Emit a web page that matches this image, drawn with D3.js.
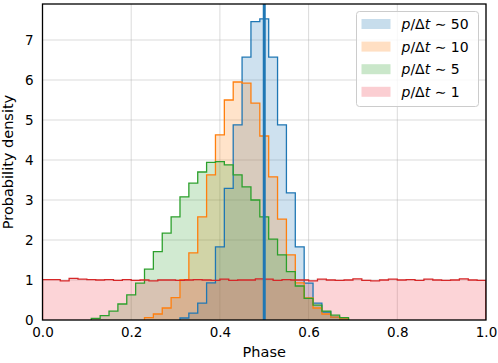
<!DOCTYPE html>
<html>
<head>
<meta charset="utf-8">
<script src="https://cdn.jsdelivr.net/npm/d3@7"></script>
<style>
  body { margin: 0; background: #fff; }
  text { font-family: "DejaVu Sans", sans-serif; }
</style>
</head>
<body>
<div id="chart"></div>
<script>
// chart data: density per phase bin, bins are 0.02 wide
const binWidth = 0.02
const seriesLabels = ["50", "10", "5", "1"]
const seriesStart = [0.31, 0.23, 0.11, 0.0]
const dens50 = [0.05, 0.17, 0.42, 0.93, 1.83, 3.29, 4.88, 6.57, 7.46, 7.53, 6.57, 4.88, 3.18, 1.83, 0.92, 0.42, 0.2, 0.07, 0.02]
const dens10 = [0.06, 0.15, 0.3, 0.56, 1.01, 1.68, 2.58, 3.63, 4.63, 5.5, 5.95, 5.92, 5.42, 4.6, 3.58, 2.52, 1.63, 0.93, 0.55, 0.3, 0.15, 0.07, 0.03]
const dens5 = [0.04, 0.11, 0.22, 0.4, 0.63, 0.92, 1.27, 1.71, 2.17, 2.58, 3.08, 3.42, 3.7, 3.94, 3.96, 3.88, 3.63, 3.33, 3.0, 2.58, 2.02, 1.63, 1.21, 0.85, 0.54, 0.37, 0.22, 0.12, 0.06]
const dens1 = [1.01, 1.01, 0.98, 1.04, 1.02, 1.01, 1.0, 1.01, 0.99, 1.01,
               0.99, 1.0, 0.98, 1.0, 1.0, 0.99, 1.0, 1.01, 1.0, 0.99,
               1.02, 0.99, 1.0, 1.0, 1.03, 1.02, 0.99, 1.01, 1.0, 1.0,
               0.98, 1.02, 1.0, 0.99, 1.0, 1.03, 0.99, 0.98, 1.0, 1.02,
               1.0, 1.01, 0.99, 1.02, 1.0, 0.99, 1.0, 1.03, 1.0, 0.99]
const xTicks = [0.0, 0.2, 0.4, 0.6, 0.8, 1.0]
const yTicks = [0, 1, 2, 3, 4, 5, 6, 7]
const markerPhase = 0.5

const allDens = [dens50, dens10, dens5, dens1]
const colors = ["#1f77b4", "#ff7f0e", "#2ca02c", "#d62728"]
const fillColors = ["#1f77b4", "#ff7f0e", "#2ca02c", "#f03a4a"]
const fillOpacity = [0.22, 0.22, 0.22, 0.22]

const width = 498
const height = 363
const margin = {top: 4, right: 12, bottom: 43, left: 42.5}
const innerW = width - margin.left - margin.right
const innerH = height - margin.top - margin.bottom

var xScale = d3.scaleLinear().domain([0, 1]).range([0, innerW])
var yScale = d3.scaleLinear().domain([0, 7.9]).range([innerH, 0])

// outline points of a step histogram
function stepPoints(start, vals) {
  var pts = [[start, 0]]
  vals.forEach(function(v, i) {
    pts.push([start + i * binWidth, v])
    pts.push([start + (i + 1) * binWidth, v])
  })
  pts.push([start + vals.length * binWidth, 0])
  return pts
}

var svg = d3.select("#chart")
  .append("svg")
    .attr("width", width)
    .attr("height", height)

svg.append("defs").append("clipPath")
    .attr("id", "plotclip")
  .append("rect")
    .attr("width", innerW)
    .attr("height", innerH)

var g = svg.append("g")
    .attr("transform", "translate(" + margin.left + "," + margin.top + ")")

// grid
g.append("g").selectAll("line")
    .data(xTicks)
    .enter().append("line")
    .attr("x1", function(d) { return xScale(d) })
    .attr("x2", function(d) { return xScale(d) })
    .attr("y1", 0).attr("y2", innerH)
    .attr("stroke", "#b0b0b0").attr("stroke-opacity", 0.5).attr("stroke-width", 0.9)

g.append("g").selectAll("line")
    .data(yTicks)
    .enter().append("line")
    .attr("y1", function(d) { return yScale(d) })
    .attr("y2", function(d) { return yScale(d) })
    .attr("x1", 0).attr("x2", innerW)
    .attr("stroke", "#b0b0b0").attr("stroke-opacity", 0.5).attr("stroke-width", 0.9)

var line = d3.line()
    .x(function(d) { return xScale(d[0]) })
    .y(function(d) { return yScale(d[1]) })

var area = d3.area()
    .x(function(d) { return xScale(d[0]) })
    .y0(yScale(0))
    .y1(function(d) { return yScale(d[1]) })

var plot = g.append("g").attr("clip-path", "url(#plotclip)")

// filled histograms
allDens.forEach(function(vals, i) {
  plot.append("path")
      .datum(stepPoints(seriesStart[i], vals))
      .attr("d", area)
      .attr("fill", fillColors[i])
      .attr("fill-opacity", fillOpacity[i])
})

// step outlines
allDens.forEach(function(vals, i) {
  plot.append("path")
      .datum(stepPoints(seriesStart[i], vals))
      .attr("d", line)
      .attr("fill", "none")
      .attr("stroke", colors[i])
      .attr("stroke-width", 1.3)
})

// vertical marker at phase 0.5
plot.append("line")
    .attr("x1", xScale(markerPhase)).attr("x2", xScale(markerPhase))
    .attr("y1", 0).attr("y2", innerH)
    .attr("stroke", "#1f77b4")
    .attr("stroke-width", 3)

// axes
var xAxis = g.append("g")
    .attr("transform", "translate(0," + innerH + ")")
    .call(d3.axisBottom(xScale).tickValues(xTicks).tickFormat(d3.format(".1f")).tickSize(0).tickPadding(7.5))
xAxis.select(".domain").remove()
xAxis.selectAll("text").attr("font-size", "13.5px").attr("fill", "#000").attr("font-family", "DejaVu Sans")

var yAxis = g.append("g")
    .call(d3.axisLeft(yScale).tickValues(yTicks).tickSize(0).tickPadding(9))
yAxis.select(".domain").remove()
yAxis.selectAll("text").attr("font-size", "13.5px").attr("fill", "#000").attr("font-family", "DejaVu Sans")

// frame
g.append("rect")
    .attr("width", innerW)
    .attr("height", innerH)
    .attr("fill", "none")
    .attr("stroke", "#000")
    .attr("stroke-width", 1.3)

// axis labels
svg.append("text")
    .attr("x", margin.left + innerW / 2)
    .attr("y", 357)
    .attr("text-anchor", "middle")
    .attr("font-size", "14.5px")
    .text("Phase")

svg.append("text")
    .attr("transform", "translate(13," + (margin.top + innerH / 2) + ") rotate(-90)")
    .attr("text-anchor", "middle")
    .attr("font-size", "14.5px")
    .text("Probability density")

// legend
var legend = svg.append("g").attr("transform", "translate(356.5,11.5)")
legend.append("rect")
    .attr("width", 122)
    .attr("height", 95)
    .attr("rx", 3)
    .attr("fill", "#fff")
    .attr("fill-opacity", 0.8)
    .attr("stroke", "#cccccc")

var rows = legend.selectAll(".row")
    .data(seriesLabels)
    .enter().append("g")
    .attr("class", "row")
    .attr("transform", function(d, i) { return "translate(0," + (12.5 + i * 22.6) + ")" })

rows.append("rect")
    .attr("x", 5)
    .attr("y", -5)
    .attr("width", 29)
    .attr("height", 10)
    .attr("fill", function(d, i) { return fillColors[i] })
    .attr("fill-opacity", 0.25)

var lt = rows.append("text")
    .attr("x", 45)
    .attr("y", 5)
    .attr("font-size", "14px")
lt.append("tspan").attr("font-style", "italic").text("p")
lt.append("tspan").text("/Δ")
lt.append("tspan").attr("font-style", "italic").text("t")
lt.append("tspan").text(function(d) { return " ∼ " + d })
</script>
</body>
</html>
